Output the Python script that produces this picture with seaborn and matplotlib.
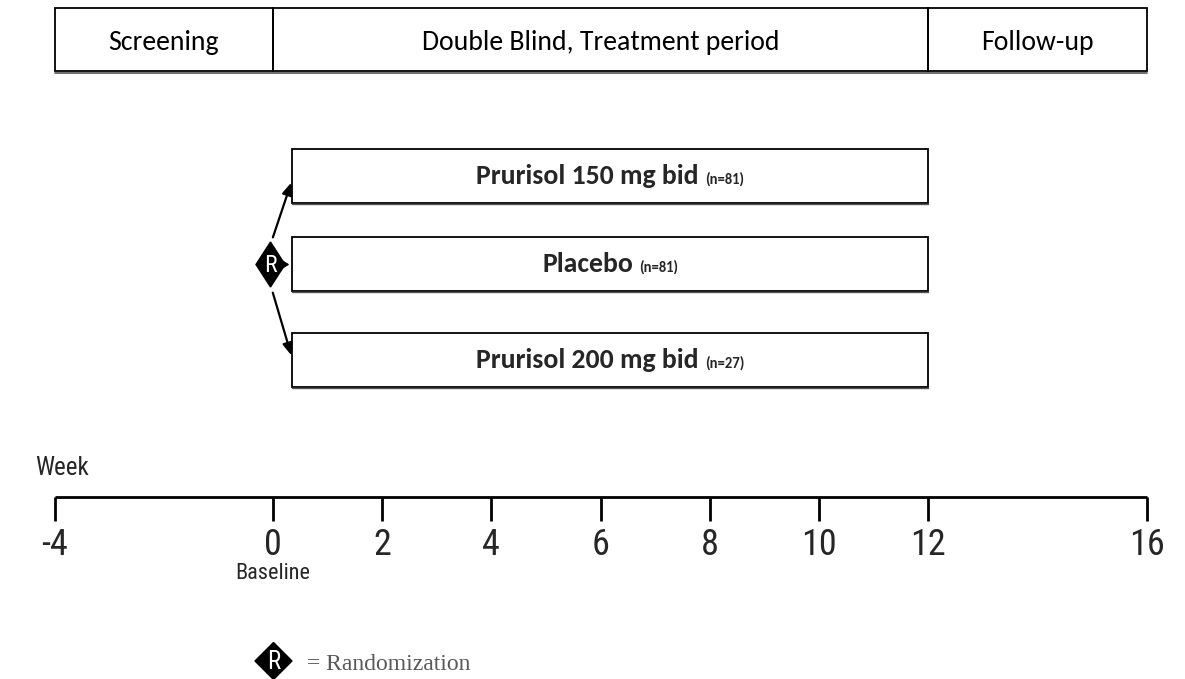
import matplotlib
matplotlib.use("Agg")
import matplotlib.pyplot as plt
from matplotlib.patches import Rectangle, Polygon
from matplotlib import font_manager as fm
import seaborn as sns

# ---- data ----
weeks = [-4, 0, 2, 4, 6, 8, 10, 12, 16]
week_labels = ["-4", "0", "2", "4", "6", "8", "10", "12", "16"]
period_names = ["Screening", "Double Blind, Treatment period", "Follow-up"]
period_bounds = [-4, 0, 12, 16]
arm_names = ["Prurisol 150 mg bid", "Placebo", "Prurisol 200 mg bid"]
arm_n = [81, 81, 27]
arm_start_week = 0.35
arm_end_week = 12

sns.set_theme(style="white")
CAL = ["Carlito", "Liberation Sans", "DejaVu Sans"]
SER = ["Liberation Serif", "DejaVu Serif"]

# pick a narrow sans (Arial Narrow look-alike) if one is installed
narrow_path = None
for key in ["LiberationSansNarrow-Regular", "ArialNarrow", "Arial Narrow",
            "RobotoCondensed-Regular", "Roboto_Condensed-Regular", "RobotoCondensed",
            "DejaVuSansCondensed.ttf"]:
    for f in fm.fontManager.ttflist:
        if key.lower() in f.fname.lower().replace(" ", "") or key.lower() in f.fname.lower():
            narrow_path = f.fname
            break
    if narrow_path:
        break

def nar(size):
    if narrow_path:
        return fm.FontProperties(fname=narrow_path, size=size)
    return fm.FontProperties(family="Liberation Sans", size=size)

PX_PER_WEEK = 54.6
X0 = 54.6  # pixel of week -4

def wk(px):
    return -4 + (px - X0) / PX_PER_WEEK

fig = plt.figure(figsize=(11.85, 6.79), dpi=100)
ax = fig.add_axes([0, 0, 1, 1])
ax.set_xlim(wk(0), wk(1185))
ax.set_ylim(679, 0)
ax.set_axis_off()

# ---- top period bar ----
top_y0, top_y1 = 8, 71
for i, name in enumerate(period_names):
    a, b = period_bounds[i], period_bounds[i + 1]
    ax.add_patch(Rectangle((a, top_y0), b - a, top_y1 - top_y0, fill=False,
                           edgecolor="black", lw=1.3, zorder=2))
    ax.text((a + b) / 2, 50, name, ha="center", va="baseline",
            fontsize=20, family=CAL, color="black")
ax.plot([period_bounds[0], period_bounds[-1]], [top_y1 + 1.5, top_y1 + 1.5],
        color="#555555", lw=1.2, zorder=1)

# ---- treatment arms ----
arm_y = [(149, 203), (237, 291), (333, 387)]
gap = 6 / PX_PER_WEEK
for (y0, y1), name, n in zip(arm_y, arm_names, arm_n):
    ax.add_patch(Rectangle((arm_start_week, y0), arm_end_week - arm_start_week, y1 - y0,
                           fill=False, edgecolor="black", lw=1.3, zorder=2))
    ax.plot([arm_start_week, arm_end_week], [y1 + 1.3, y1 + 1.3], color="#555555", lw=1.0)
    cx = (arm_start_week + arm_end_week) / 2
    t1 = ax.text(0, 0, name, fontsize=20, weight="bold", family=CAL)
    t2 = ax.text(0, 0, f"(n={n})", fontsize=10.5, weight="bold", family=CAL)
    fig.canvas.draw()
    r = fig.canvas.get_renderer()
    w1 = t1.get_window_extent(r).width / PX_PER_WEEK
    w2 = t2.get_window_extent(r).width / PX_PER_WEEK
    start = cx - (w1 + gap + w2) / 2
    yb = (y0 + y1) / 2 + 8
    t1.set_position((start, yb)); t1.set_va("baseline")
    t2.set_position((start + w1 + gap, yb)); t2.set_va("baseline")

# ---- randomization diamond and arrows ----
dcx, dcy, dhw, dhh = wk(270.5), 264.5, 14.5 / PX_PER_WEEK, 22.5
ax.add_patch(Polygon([(dcx - dhw, dcy), (dcx, dcy - dhh), (dcx + dhw, dcy), (dcx, dcy + dhh)],
                     closed=True, facecolor="black", edgecolor="black", zorder=3))
ax.text(dcx, dcy + 1, "R", color="white", ha="center", va="center", fontproperties=nar(17), zorder=4)
arrow_kw = dict(arrowstyle="-|>,head_length=0.6,head_width=0.25", color="black", lw=1.6)
ax.annotate("", xy=(arm_start_week, 180), xytext=(wk(272), 240), arrowprops=arrow_kw)
ax.annotate("", xy=(arm_start_week, 358), xytext=(wk(272), 290), arrowprops=arrow_kw)
ax.annotate("", xy=(arm_start_week, dcy), xytext=(wk(282), dcy),
            arrowprops=dict(arrowstyle="->,head_length=0.4,head_width=0.25", color="black", lw=1.2))

# ---- timeline ----
axis_y = 497
ax.plot([weeks[0], weeks[-1]], [axis_y, axis_y], color="black", lw=2, solid_capstyle="butt")
ax.vlines(weeks, axis_y, axis_y + 24, color="black", lw=2)
for w, lab in zip(weeks, week_labels):
    ax.text(w, 555, lab, ha="center", va="baseline", fontproperties=nar(26))
ax.text(wk(35), 475, "Week", ha="left", va="baseline", fontproperties=nar(18))
ax.text(0, 579, "Baseline", ha="center", va="baseline", fontproperties=nar(16))

# ---- legend ----
lcx, lcy, lh = wk(273.5), 661, 18.5
ax.add_patch(Polygon([(lcx - lh / PX_PER_WEEK, lcy), (lcx, lcy - lh), (lcx + lh / PX_PER_WEEK, lcy), (lcx, lcy + lh)],
                     closed=True, facecolor="black", edgecolor="black", zorder=3, clip_on=False))
ax.text(lcx, lcy + 1, "R", color="white", ha="center", va="center", fontproperties=nar(18), zorder=4)
ax.text(wk(307), 664, "= Randomization", ha="left", va="center", fontsize=17, family=SER, color="#595959")

fig.savefig("out.png", dpi=100)
